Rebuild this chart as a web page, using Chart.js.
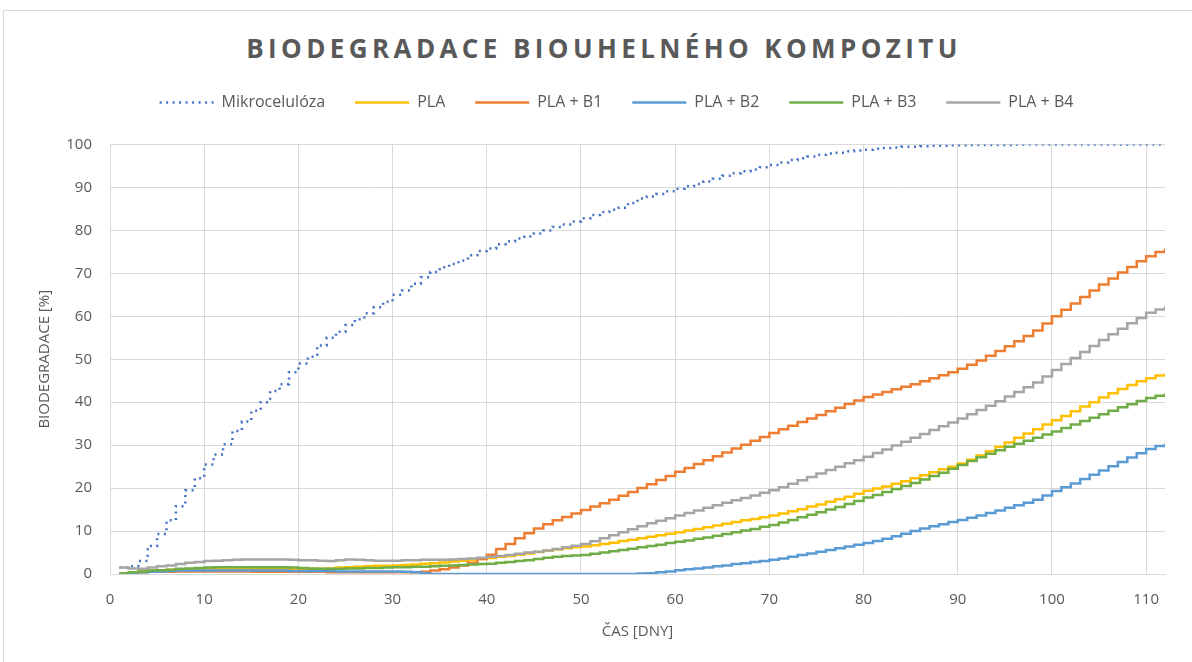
<!DOCTYPE html>
<html lang="cs">
<head>
  <meta charset="UTF-8">
  <title>Biodegradace biouhelného kompozitu</title>
  <script src="https://cdn.jsdelivr.net/npm/chart.js"></script>
  <style>
    body {
      margin: 0;
      background: #fff;
    }

    /* Excel-like chart frame */
    .frame {
      position: absolute;
      left: 3px;
      top: 10px;
      width: 1200px;
      height: 660px;
      border: 1px solid #d9d9d9;
    }

    .chart-title {
      position: absolute;
      left: 0;
      top: 34px;
      width: 1208px;
      text-align: center;
      font-family: "Open Sans", sans-serif;
      font-weight: 700;
      font-size: 26px;
      line-height: 28px;
      letter-spacing: 4.4px;
      color: #595959;
    }

    .chart-box {
      position: absolute;
      left: 0;
      top: 0;
      width: 1192px;
      height: 662px;
    }
  </style>
</head>
<body>

  <div class="frame"></div>
  <div class="chart-title">BIODEGRADACE BIOUHELNÉHO KOMPOZITU</div>
  <div class="chart-box">
    <canvas id="bioChart"></canvas>
  </div>

  <script>
    // x values: measurement day
    const days = Array.from({ length: 112 }, (_, i) => i + 1);

    const seriesNames = ['Mikrocelulóza', 'PLA', 'PLA + B1', 'PLA + B2', 'PLA + B3', 'PLA + B4'];

    // degradation in %, one value per day
    const mikrocelulоza = [
      1.5, 1.8, 3.0, 6.5, 9.3, 12.5, 15.8, 19.5, 22.3, 25.5,
      27.8, 30.2, 33.3, 35.5, 38.0, 40.0, 42.6, 44.2, 47.0, 49.0,
      50.6, 53.2, 55.0, 56.4, 58.0, 59.3, 60.7, 62.1, 63.4, 65.0,
      66.0, 67.6, 69.1, 70.3, 71.4, 72.2, 73.0, 74.2, 75.2, 75.8,
      76.8, 77.5, 78.1, 78.6, 79.3, 80.0, 80.8, 81.4, 82.1, 82.8,
      83.6, 84.3, 84.8, 85.3, 86.4, 87.4, 87.9, 88.5, 89.1, 89.7,
      90.3, 90.8, 91.4, 92.0, 92.7, 93.3, 93.8, 94.2, 94.7, 95.2,
      95.8, 96.4, 96.8, 97.2, 97.6, 97.9, 98.1, 98.4, 98.6, 98.8,
      99.0, 99.2, 99.3, 99.5, 99.5, 99.6, 99.7, 99.7, 99.8, 99.8,
      99.9, 99.9, 99.9, 99.9, 99.9, 100, 100, 100, 100, 100,
      100, 100, 100, 100, 100, 100, 100, 100, 100, 100, 100, 100
    ];

    const pla = [
      0.2, 0.4, 0.6, 0.8, 0.9, 1.0, 1.1, 1.1, 1.2, 1.2,
      1.2, 1.2, 1.2, 1.2, 1.2, 1.2, 1.2, 1.2, 1.2, 1.2,
      1.2, 1.2, 1.3, 1.5, 1.6, 1.7, 1.8, 1.9, 1.9, 2.0,
      2.1, 2.2, 2.4, 2.5, 2.7, 2.9, 3.1, 3.3, 3.5, 3.7,
      4.0, 4.2, 4.5, 4.8, 5.1, 5.4, 5.7, 6.0, 6.2, 6.4,
      6.7, 7.0, 7.3, 7.7, 8.0, 8.3, 8.7, 9.0, 9.4, 9.7,
      10.1, 10.5, 10.9, 11.3, 11.7, 12.1, 12.5, 12.8, 13.2, 13.6,
      14.1, 14.6, 15.1, 15.7, 16.2, 16.8, 17.4, 18.0, 18.7, 19.4,
      19.9, 20.4, 21.0, 21.6, 22.3, 23.0, 23.7, 24.4, 25.0, 25.7,
      26.6, 27.6, 28.6, 29.6, 30.6, 31.7, 32.7, 33.7, 34.8, 35.8,
      36.8, 37.9, 39.0, 40.0, 41.1, 42.1, 43.1, 44.0, 44.9, 45.6, 46.2, 46.6
    ];

    const plaB1 = [
      0.2, 0.3, 0.4, 0.5, 0.5, 0.5, 0.6, 0.6, 0.6, 0.6,
      0.6, 0.6, 0.6, 0.6, 0.5, 0.5, 0.5, 0.5, 0.5, 0.5,
      0.5, 0.5, 0.4, 0.4, 0.4, 0.4, 0.4, 0.4, 0.4, 0.4,
      0.4, 0.4, 0.5, 0.8, 1.1, 1.5, 2.0, 2.6, 3.5, 4.5,
      5.8, 7.0, 8.3, 9.5, 10.6, 11.6, 12.5, 13.3, 14.1, 14.9,
      15.7, 16.5, 17.3, 18.2, 19.1, 20.0, 20.9, 21.9, 22.8, 23.8,
      24.7, 25.6, 26.5, 27.4, 28.3, 29.2, 30.1, 31.0, 31.9, 32.8,
      33.7, 34.5, 35.4, 36.2, 37.0, 37.9, 38.7, 39.6, 40.4, 41.2,
      41.8, 42.4, 43.0, 43.6, 44.2, 44.9, 45.6, 46.3, 47.0, 47.8,
      48.7, 49.7, 50.8, 51.9, 53.0, 54.2, 55.4, 56.7, 58.3, 60.0,
      61.5, 63.0, 64.5, 66.0, 67.4, 68.8, 70.2, 71.5, 72.8, 74.0, 75.0, 75.8
    ];

    const plaB2 = [
      0.0, 0.2, 0.4, 0.5, 0.6, 0.7, 0.8, 0.8, 0.8, 0.8,
      0.8, 0.8, 0.8, 0.8, 0.8, 0.8, 0.8, 0.8, 0.7, 0.7,
      0.7, 0.7, 0.7, 0.6, 0.6, 0.6, 0.6, 0.6, 0.6, 0.6,
      0.5, 0.4, 0.2, 0.0, 0.0, 0.0, 0.0, 0.0, 0.0, 0.0,
      0.0, 0.0, 0.0, 0.0, 0.0, 0.0, 0.0, 0.0, 0.0, 0.0,
      0.0, 0.0, 0.0, 0.0, 0.0, 0.1, 0.2, 0.4, 0.6, 0.9,
      1.1, 1.3, 1.5, 1.8, 2.0, 2.3, 2.5, 2.8, 3.0, 3.3,
      3.6, 4.0, 4.4, 4.8, 5.2, 5.6, 6.0, 6.4, 6.8, 7.2,
      7.7, 8.2, 8.8, 9.4, 10.0, 10.6, 11.1, 11.6, 12.1, 12.6,
      13.1, 13.6, 14.2, 14.8, 15.4, 16.0, 16.6, 17.3, 18.3, 19.3,
      20.2, 21.1, 22.1, 23.1, 24.1, 25.1, 26.1, 27.1, 28.1, 29.1, 29.8, 30.3
    ];

    const plaB3 = [
      0.1, 0.4, 0.6, 0.8, 0.9, 1.0, 1.2, 1.3, 1.4, 1.5,
      1.6, 1.6, 1.6, 1.6, 1.6, 1.6, 1.6, 1.6, 1.5, 1.4,
      1.3, 1.2, 1.2, 1.2, 1.3, 1.3, 1.4, 1.4, 1.5, 1.6,
      1.6, 1.7, 1.7, 1.8, 1.9, 2.0, 2.1, 2.2, 2.3, 2.4,
      2.6, 2.8, 3.0, 3.2, 3.5, 3.8, 4.0, 4.2, 4.3, 4.4,
      4.7, 5.0, 5.3, 5.6, 5.9, 6.2, 6.5, 6.8, 7.2, 7.5,
      7.8, 8.2, 8.5, 8.9, 9.3, 9.7, 10.1, 10.5, 11.0, 11.4,
      12.0, 12.6, 13.2, 13.8, 14.4, 15.0, 15.6, 16.3, 17.0, 17.8,
      18.4, 19.1, 19.8, 20.5, 21.2, 22.0, 22.8, 23.6, 24.5, 25.4,
      26.3, 27.2, 28.0, 28.8, 29.6, 30.3, 31.0, 31.7, 32.5, 33.2,
      34.0, 34.8, 35.6, 36.4, 37.2, 38.0, 38.8, 39.5, 40.3, 41.0, 41.5, 42.0
    ];

    const plaB4 = [
      1.5, 1.3, 1.2, 1.5, 1.8, 2.0, 2.3, 2.6, 2.8, 3.0,
      3.1, 3.2, 3.3, 3.4, 3.4, 3.4, 3.4, 3.4, 3.3, 3.2,
      3.2, 3.1, 3.0, 3.2, 3.4, 3.3, 3.2, 3.1, 3.1, 3.1,
      3.2, 3.2, 3.3, 3.3, 3.3, 3.4, 3.5, 3.6, 3.8, 4.0,
      4.2, 4.4, 4.7, 5.0, 5.2, 5.5, 5.8, 6.2, 6.6, 7.0,
      7.6, 8.3, 9.0, 9.7, 10.4, 11.1, 11.8, 12.4, 13.0, 13.6,
      14.2, 14.8, 15.4, 16.0, 16.6, 17.2, 17.7, 18.3, 18.9, 19.5,
      20.2, 21.0, 21.8, 22.6, 23.4, 24.2, 25.0, 25.8, 26.5, 27.3,
      28.2, 29.0, 29.9, 30.8, 31.7, 32.6, 33.5, 34.4, 35.3, 36.2,
      37.2, 38.2, 39.2, 40.2, 41.3, 42.4, 43.5, 44.6, 46.0, 47.5,
      48.9, 50.3, 51.7, 53.1, 54.5, 55.8, 57.1, 58.4, 59.6, 60.8, 61.6, 62.3
    ];

    const textColor = '#595959';
    const gridColor = '#d9d9d9';

    function line(label, values, color, extra) {
      return Object.assign({
        label: label,
        data: values,
        borderColor: color,
        backgroundColor: color,
        borderWidth: 2.5,
        pointRadius: 0,
        pointStyle: 'line',
        stepped: true,
        fill: false
      }, extra || {});
    }

    // makes the legend block taller so the plot starts lower (gap under legend)
    const legendGap = {
      id: 'legendGap',
      beforeInit(chart) {
        const fit = chart.legend.fit;
        chart.legend.fit = function () {
          fit.call(this);
          this.height += 24;
        };
      }
    };

    const ctx = document.getElementById('bioChart').getContext('2d');
    const bioChart = new Chart(ctx, {
      type: 'line',
      data: {
        labels: days,
        datasets: [
          line(seriesNames[0], mikrocelulоza, '#4472c4', { borderDash: [2, 4.5] }),
          line(seriesNames[1], pla, '#ffc000'),
          line(seriesNames[2], plaB1, '#ed7d31'),
          line(seriesNames[3], plaB2, '#5b9bd5'),
          line(seriesNames[4], plaB3, '#70ad47'),
          line(seriesNames[5], plaB4, '#a5a5a5')
        ].map((ds, i, all) => Object.assign(ds, { order: all.length - i }))
      },
      plugins: [legendGap],
      options: {
        responsive: true,
        maintainAspectRatio: false,
        animation: false,
        layout: {
          padding: { left: 68, right: 27, top: 64.5, bottom: 0 }
        },
        plugins: {
          tooltip: { enabled: false },
          legend: {
            position: 'top',
            labels: {
              usePointStyle: true,
              pointStyleWidth: 54,
              padding: 30,
              color: textColor,
              font: { family: 'Open Sans', size: 16 },
              sort: (a, b) => a.datasetIndex - b.datasetIndex,
              generateLabels: (chart) => {
                const items = Chart.defaults.plugins.legend.labels.generateLabels(chart);
                items.forEach((it) => {
                  const ds = chart.data.datasets[it.datasetIndex];
                  it.lineDash = ds.borderDash || [];
                  it.lineWidth = ds.borderWidth;
                  it.strokeStyle = ds.borderColor;
                  it.pointStyle = 'line';
                });
                return items;
              }
            }
          }
        },
        scales: {
          x: {
            type: 'linear',
            min: 0,
            max: 112,
            afterFit: (scale) => { scale.height = 88; },
            ticks: {
              stepSize: 10,
              includeBounds: false,
              padding: 17,
              color: textColor,
              font: { family: 'Open Sans', size: 15 }
            },
            grid: { color: gridColor, drawTicks: false },
            border: { color: gridColor },
            title: {
              display: true,
              text: 'ČAS [DNY]',
              color: textColor,
              font: { family: 'Open Sans', size: 15 },
              padding: { top: 0, bottom: 21 }
            }
          },
          y: {
            min: 0,
            max: 100,
            afterFit: (scale) => { scale.width = 42; },
            ticks: {
              stepSize: 10,
              padding: 18,
              color: textColor,
              font: { family: 'Open Sans', size: 15 }
            },
            grid: { color: gridColor, drawTicks: false },
            border: { color: gridColor },
            title: {
              display: true,
              text: 'BIODEGRADACE [%]',
              color: textColor,
              font: { family: 'Open Sans', size: 15 },
              padding: { top: -32, bottom: 0 }
            }
          }
        }
      }
    });
  </script>
</body>
</html>
